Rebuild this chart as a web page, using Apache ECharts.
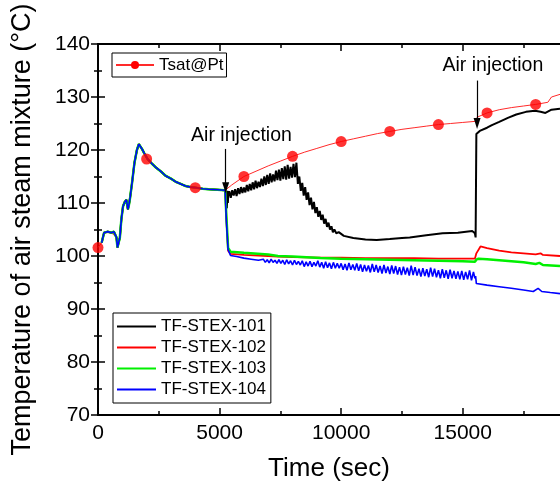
<!DOCTYPE html>
<html><head><meta charset="utf-8">
<script src="https://cdn.jsdelivr.net/npm/echarts@6/dist/echarts.min.js"></script>
<style>html,body{margin:0;padding:0;background:#fff}#c{width:560px;height:487px}</style>
</head><body><div id="c"></div>
<script>
// ---- axis ticks / labels ----
const xMajorTicks = [0, 5000, 10000, 15000];
const xMinorTicks = [2500, 7500, 12500, 17500];
const xRange = [0, 19000];
const yRange = [70, 140];
const xTitle = 'Time (sec)';
const yTitle = 'Temperature of air steam mixture (°C)';

// ---- series names ----
const tsatName = 'Tsat@Pt';
const seriesNames = ['TF-STEX-101', 'TF-STEX-102', 'TF-STEX-103', 'TF-STEX-104'];

// ---- shared record before the first air injection [time, °C] ----
const preInjection = [[150,102.5],[250,104.4],[400,104.6],[550,104.4],[650,104.6],[720,104.3],[760,103.5],[800,101.6],[850,101.8],[900,103.5],[960,106.9],[1030,109.4],[1100,110.2],[1170,110.6],[1230,108.8],[1270,109.6],[1320,111.0],[1400,113.8],[1500,117.6],[1600,120.0],[1680,121.1],[1740,120.8],[1810,120.2],[1900,119.4],[2040,118.3],[2200,117.5],[2380,116.7],[2600,115.9],[2790,115.1],[3000,114.6],[3200,114.0],[3400,113.6],[3600,113.2],[3800,113.0],[4010,112.9],[4300,112.7],[4550,112.6],[4900,112.5],[5230,112.4]];

// ---- after the first injection ----
const stex101Post = [[5280,112.2],[5300,109.0],[5320,112.3],[5340,110.0],[5360,111.8],
 [5400,112.2],[5460,111.0],[5520,112.4],[5580,111.4],[5640,112.6],[5700,111.3],[5760,112.8],[5820,111.7],[5880,113.0],[5940,111.9],
 [6000,112.9],[6060,112.0],[6120,113.4],[6180,112.2],[6240,113.6],[6300,112.4],[6360,113.9],[6420,112.6],[6480,114.2],[6540,112.8],
 [6600,114.0],[6660,113.0],[6720,114.6],[6780,113.2],[6840,115.0],[6900,113.4],[6960,115.3],[7020,113.6],[7080,115.6],[7140,113.9],
 [7200,115.4],[7260,114.1],[7320,116.1],[7380,114.3],[7440,116.3],[7500,114.2],[7560,116.6],[7620,114.5],[7680,116.9],[7740,114.4],
 [7800,117.2],[7860,114.6],[7920,116.8],[7980,114.8],[8040,117.4],[8100,114.9],[8160,117.6],[8220,113.6],[8280,115.0],[8340,112.3],
 [8400,113.8],[8460,111.4],[8520,113.0],[8580,110.6],[8640,112.0],[8700,109.6],[8760,111.0],[8820,108.8],[8880,110.2],[8940,108.1],
 [9000,109.2],[9060,107.4],[9120,108.5],[9180,106.8],[9240,107.8],[9300,106.1],[9360,107.0],[9420,105.5],[9480,106.3],[9540,105.0],
 [9600,105.6],[9660,104.5],[9720,105.0],[9800,104.3],[9900,104.5],[10110,103.8],[10500,103.4],[11000,103.1],[11460,103.0],[12000,103.2],
 [12500,103.4],[12820,103.5],[13500,103.9],[14170,104.3],[14800,104.4],[15390,104.7],[15500,104.3],[15530,103.5],[15560,123.0],[15600,123.3],
 [15700,123.6],[16000,124.2],[16200,124.7],[16500,125.3],[16880,126.1],[17200,126.7],[17600,127.2],[17970,127.4],[18200,127.2],[18400,127.0],
 [18650,127.6],[19000,127.8]];

const stex102Post = [[5280,107.0],[5350,101.0],[5450,100.4],[6000,100.2],[7000,100.0],[7400,99.9],[8000,99.8],[9150,99.7],[10000,99.7],[11000,99.6],[12000,99.6],[13000,99.6],[14000,99.5],[15000,99.5],[15500,99.5],[15560,100.5],[15730,101.8],[16000,101.5],[16500,101.0],[17000,100.7],[17500,100.5],[18000,100.3],[18200,100.5],[18300,100.2],[19000,100.0]];

const stex103Post = [[5280,107.5],[5350,101.5],[5450,100.8],[6000,100.6],[7000,100.3],[7400,100.0],[8000,99.9],[9150,99.6],[10000,99.5],[11000,99.4],[12000,99.3],[13000,99.2],[14000,99.1],[15000,99.0],[15500,98.9],[15560,99.3],[15650,99.5],[16000,99.4],[16500,99.2],[17000,99.0],[17500,98.8],[18000,98.5],[18150,98.7],[18300,98.3],[19000,98.1]];

const stex104Post = [[5280,106.5],[5350,101.2],[5450,100.1],[5700,99.9],[6000,99.6],[6300,99.4],[6600,99.2],
 [6800,99.4],[6880,98.8],[6960,99.3],[7040,98.7],[7120,99.4],[7200,98.8],[7280,99.2],[7360,98.6],[7440,99.3],[7520,98.6],
 [7600,99.2],[7680,98.4],[7760,99.3],[7840,98.5],[7920,99.1],[8000,98.3],[8080,99.2],[8160,98.4],[8240,99.0],[8320,98.3],
 [8400,99.1],[8480,98.0],[8560,98.9],[8640,98.1],[8720,99.0],[8800,98.0],[8880,98.8],[8960,98.1],[9040,99.1],[9120,97.9],
 [9200,98.8],[9280,97.7],[9360,98.9],[9440,97.8],[9520,98.7],[9600,97.6],[9680,98.8],[9760,97.7],[9840,98.6],[9920,97.7],
 [10000,98.6],[10080,97.4],[10160,98.5],[10240,97.3],[10320,98.7],[10400,97.4],[10480,98.4],[10560,97.3],[10640,98.6],[10720,97.2],
 [10800,98.4],[10880,97.0],[10960,98.3],[11040,97.1],[11120,98.2],[11200,96.9],[11280,98.5],[11360,97.0],[11440,98.3],[11520,96.9],
 [11600,98.1],[11680,96.7],[11760,98.3],[11840,96.8],[11920,98.0],[12000,96.6],[12080,98.2],[12160,96.7],[12240,98.1],[12320,96.5],
 [12400,97.9],[12480,96.4],[12560,98.0],[12640,96.5],[12720,97.8],[12800,96.3],[12880,98.2],[12960,96.4],[13040,97.9],[13120,96.3],
 [13200,97.6],[13280,96.1],[13360,97.7],[13440,96.2],[13520,97.5],[13600,96.0],[13680,97.8],[13760,96.1],[13840,97.6],[13920,96.0],
 [14000,97.3],[14080,95.8],[14160,97.5],[14240,95.9],[14320,97.3],[14400,95.7],[14480,97.4],[14560,95.8],[14640,97.2],[14720,95.7],
 [14800,97.1],[14880,95.6],[14960,97.2],[15040,95.5],[15120,97.0],[15200,95.6],[15280,97.3],[15360,95.4],[15440,97.0],[15500,95.8],
 [15530,96.2],[15560,94.8],[16000,94.5],[16500,94.2],[17000,93.9],[17500,93.6],[17900,93.3],[18100,93.9],[18250,93.3],[18600,93.1],
 [19000,92.9]];

// ---- saturation temperature ----
const tsatLine = [[0,101.6],[150,102.5],[250,104.4],[550,104.4],[760,103.5],[800,101.6],[900,103.5],[1030,109.4],[1170,110.6],[1230,108.8],[1320,111.0],[1500,117.6],[1680,121.1],[1810,120.2],[2040,118.3],[2380,116.7],[2790,115.1],[3200,114.0],[3600,113.2],[4010,112.9],[4550,112.6],[5230,112.4],[5300,112.5],[5500,113.4],[6000,115.0],[6500,116.0],[7000,117.0],[7500,117.9],[8000,118.8],[8500,119.6],[9000,120.3],[9500,121.0],[10000,121.6],[10500,122.1],[11000,122.6],[11500,123.1],[12000,123.5],[12500,123.9],[13000,124.2],[13500,124.5],[14000,124.8],[14500,125.0],[15000,125.2],[15500,125.4],[15600,126.2],[16000,127.0],[16500,127.6],[17000,128.0],[17500,128.3],[18000,128.6],[18500,129.0],[18650,130.0],[19000,130.5]];
const tsatMarkers = [[0,101.6],[2000,118.3],[4000,112.9],[6000,115.0],[8000,118.8],[10000,121.6],[12000,123.5],[14000,124.8],[16000,127.0],[18000,128.6]];

// ---- annotations ----
const annotationText = 'Air injection';
const arrowTimes = [5250, 15590];
const arrowFrom = [120.2, 133.1];
const arrowTo = [112.9, 125.0];
const labelAt = [[5900, 122.8], [16240, 135.9]];

const FONT = "'Liberation Sans', Arial, sans-serif";
const chart = echarts.init(document.getElementById('c'), null, {renderer: 'canvas'});

const axisLineStyle = {color: '#000', width: 1.8};
function xAx(pos, ticks, len, main) {
  return {
    type: 'value', position: pos, min: xRange[0], max: xRange[1],
    axisLine: {show: main, lineStyle: axisLineStyle},
    axisTick: {show: true, inside: true, length: len, customValues: ticks, lineStyle: {color: '#000', width: 1.5}},
    axisLabel: main && pos === 'bottom'
      ? {show: true, customValues: xMajorTicks, formatter: v => String(v), fontSize: 21, color: '#000', fontFamily: FONT, margin: 8}
      : {show: false},
    splitLine: {show: false},
    name: main && pos === 'bottom' ? xTitle : '',
    nameLocation: 'middle', nameGap: 41,
    nameTextStyle: {fontSize: 26, color: '#000', fontFamily: FONT}
  };
}
function yAx(pos, main) {
  return {
    type: 'value', position: pos, min: yRange[0], max: yRange[1], interval: 10,
    axisLine: {show: true, lineStyle: axisLineStyle},
    axisTick: {show: true, inside: true, length: 7, lineStyle: {color: '#000', width: 1.5}},
    minorTick: {show: true, splitNumber: 2, length: 4, lineStyle: {color: '#000', width: 1.5}},
    axisLabel: main ? {show: true, fontSize: 21, color: '#000', fontFamily: FONT, margin: 8} : {show: false},
    splitLine: {show: false},
    name: main ? yTitle : '',
    nameLocation: 'middle', nameGap: 62, nameRotate: 90,
    nameTextStyle: {fontSize: 27, color: '#000', fontFamily: FONT}
  };
}

const lineBase = {type: 'line', symbol: 'none', showSymbol: false, xAxisIndex: 0, yAxisIndex: 0, animation: false, emphasis: {disabled: true}};

chart.setOption({
  animation: false,
  backgroundColor: '#fff',
  grid: {left: 98, top: 44, width: 467, bottom: 72, containLabel: false},
  xAxis: [xAx('bottom', xMajorTicks, 7, true), xAx('bottom', xMinorTicks, 4, false), xAx('top', xMajorTicks, 7, true), xAx('top', xMinorTicks, 4, false)],
  yAxis: [yAx('left', true), yAx('right', false)],
  legend: [
    {data: [tsatName], orient: 'vertical', left: 112, top: 53, padding: [1, 3, 1, 3], itemWidth: 38, itemHeight: 10, itemGap: 0,
     borderColor: '#000', borderWidth: 1, backgroundColor: '#fff', selectedMode: false,
     textStyle: {fontSize: 17, lineHeight: 22, color: '#000', fontFamily: FONT}},
    {data: seriesNames, orient: 'vertical', left: 113, top: 313, padding: [3, 5, 3, 3], itemWidth: 39, itemHeight: 14, itemGap: 0,
     borderColor: '#000', borderWidth: 1, backgroundColor: '#fff', selectedMode: false,
     itemStyle: {opacity: 0},
     textStyle: {fontSize: 17, lineHeight: 21, color: '#000', fontFamily: FONT}}
  ],
  series: [
    Object.assign({}, lineBase, {name: tsatName, data: tsatLine, symbol: 'circle', symbolSize: 11,
      itemStyle: {color: '#ff0000'}, lineStyle: {color: '#ff2a2a', width: 1}}),
    Object.assign({}, lineBase, {name: seriesNames[0], data: preInjection.concat(stex101Post), itemStyle: {color: '#000'}, lineStyle: {color: '#000', width: 2}}),
    Object.assign({}, lineBase, {name: seriesNames[1], data: preInjection.concat(stex102Post), itemStyle: {color: '#ff0000'}, lineStyle: {color: '#ff0000', width: 1.8}}),
    Object.assign({}, lineBase, {name: seriesNames[2], data: preInjection.concat(stex103Post), itemStyle: {color: '#00ff00'}, lineStyle: {color: '#00f000', width: 2.5}}),
    Object.assign({}, lineBase, {name: seriesNames[3], data: preInjection.concat(stex104Post), itemStyle: {color: '#0000ff'}, lineStyle: {color: '#0000ff', width: 1.6},
      markLine: {silent: true, symbol: ['none', 'triangle'], symbolSize: [7, 11], label: {show: false},
        lineStyle: {color: '#000', width: 1.2, type: 'solid'}, emphasis: {disabled: true},
        data: arrowTimes.map((t, i) => [{coord: [t, arrowFrom[i]]}, {coord: [t, arrowTo[i]]}])}}),
    {type: 'scatter', name: 'tsat-markers', data: tsatMarkers, symbol: 'circle', symbolSize: 11, itemStyle: {color: '#ff0000'},
      xAxisIndex: 0, yAxisIndex: 0, animation: false, emphasis: {disabled: true}, z: 5}
  ]
});

const texts = labelAt.map(p => {
  const px = chart.convertToPixel({gridIndex: 0}, p);
  return {type: 'text', x: px[0], y: px[1], z: 100,
    style: {text: annotationText, fontSize: 19.5, fontFamily: FONT, fill: '#000', align: 'center', verticalAlign: 'middle'}};
});
chart.setOption({graphic: texts});
</script></body></html>
